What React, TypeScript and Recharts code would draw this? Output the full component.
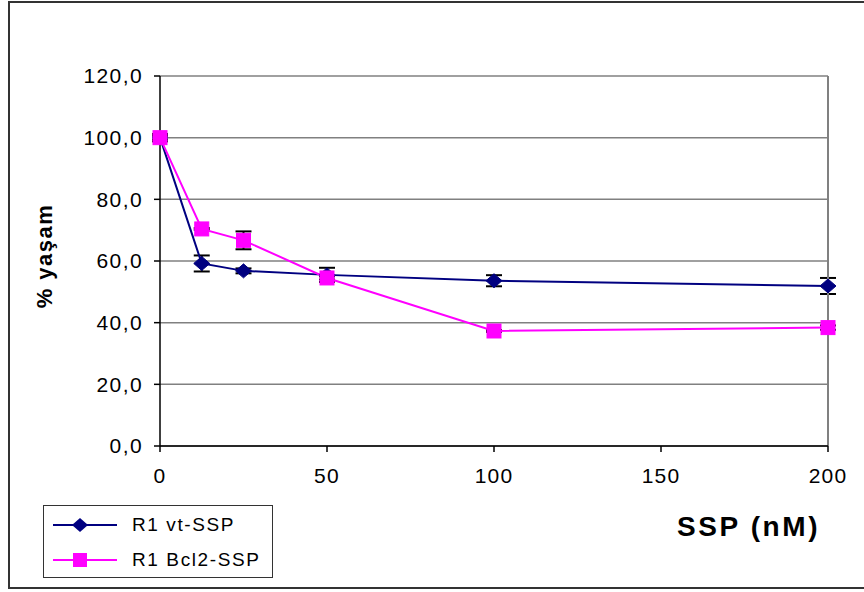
import React from 'react';
import {
  LineChart,
  Line,
  XAxis,
  YAxis,
  CartesianGrid,
  ErrorBar,
  ReferenceLine,
} from 'recharts';

const doses = [0, 12.5, 25, 50, 100, 200];
const vtValues = [100, 59.2, 56.8, 55.5, 53.6, 51.9];
const vtErrors = [1.2, 2.6, 0.8, 2.3, 1.8, 2.6];
const bcl2Values = [100, 70.4, 66.7, 54.5, 37.3, 38.4];
const bcl2Errors = [0.6, 0.3, 2.9, 0.5, 0.3, 0.7];
const xTicks = [0, 50, 100, 150, 200];
const yTicks = [0, 20, 40, 60, 80, 100, 120];
const seriesNames = ['R1 vt-SSP', 'R1 Bcl2-SSP'];

const data = doses.map((d, i) => ({
  dose: d,
  vt: vtValues[i],
  vtErr: vtErrors[i],
  bcl2: bcl2Values[i],
  bcl2Err: bcl2Errors[i],
}));

const FONT = '"Liberation Sans", Arial, sans-serif';
const NAVY = '#000080';
const PINK = '#FF00FF';

const Diamond = ({ cx, cy }: any) => {
  if (cx == null || cy == null) return null;
  return <path d={`M${cx},${cy - 7} L${cx + 8},${cy} L${cx},${cy + 7} L${cx - 8},${cy} Z`} fill={NAVY} stroke={NAVY} />;
};

const Square = ({ cx, cy }: any) => {
  if (cx == null || cy == null) return null;
  return <rect x={cx - 7} y={cy - 7} width={14} height={14} fill={PINK} stroke={PINK} />;
};

const LegendBox = () => (
  <div
    style={{
      position: 'absolute',
      left: 43,
      top: 505,
      width: 230,
      height: 73,
      border: '1.5px solid #333',
      background: '#fff',
      fontFamily: FONT,
      fontSize: 19,
      letterSpacing: 1.6,
      color: '#000',
      boxSizing: 'border-box',
      paddingTop: 1,
    }}
  >
    {seriesNames.map((name, i) => (
      <div key={name} style={{ display: 'flex', alignItems: 'center', height: 35 }}>
        <svg width={80} height={20} style={{ marginLeft: 8 }}>
          <line x1={1} y1={10} x2={65} y2={10} stroke={i === 0 ? NAVY : PINK} strokeWidth={2} />
          {i === 0 ? (
            <path d="M28,3 L36,10 L28,17 L20,10 Z" fill={NAVY} />
          ) : (
            <rect x={21} y={3} width={14} height={14} fill={PINK} />
          )}
        </svg>
        <span>{name}</span>
      </div>
    ))}
  </div>
);

export default function App() {
  return (
    <div style={{ position: 'absolute', left: 0, top: 0, width: 864, height: 592, overflow: 'hidden', background: '#fff' }}>
      <div
        style={{
          position: 'absolute',
          left: 8,
          top: 1,
          width: 880,
          height: 588,
          borderTop: '2px solid #333',
          borderLeft: '2px solid #333',
          borderBottom: '2px solid #333',
          boxSizing: 'border-box',
        }}
      />
      <div style={{ position: 'absolute', left: 0, top: 0 }}>
        <LineChart
          width={864}
          height={592}
          data={data}
          margin={{ top: 76, right: 36, left: 80, bottom: 106 }}
        >
          <CartesianGrid vertical={false} stroke="#808080" strokeWidth={1.5} />
          <ReferenceLine x={200} stroke="#808080" strokeWidth={2} />
          <XAxis
            dataKey="dose"
            type="number"
            domain={[0, 200]}
            ticks={xTicks}
            height={40}
            axisLine={{ stroke: '#000', strokeWidth: 1.5 }}
            tickLine={{ stroke: '#000', strokeWidth: 1.5 }}
            tickSize={6}
            tickMargin={16}
            tick={{ fill: '#000', fontSize: 21, fontFamily: FONT, letterSpacing: 1.2 }}
          />
          <YAxis
            type="number"
            domain={[0, 120]}
            ticks={yTicks}
            width={80}
            axisLine={{ stroke: '#000', strokeWidth: 1.5 }}
            tickLine={{ stroke: '#000', strokeWidth: 1.5 }}
            tickSize={6}
            tickMargin={11}
            tickFormatter={(v: number) => v.toFixed(1).replace('.', ',')}
            tick={{ fill: '#000', fontSize: 21, fontFamily: FONT, letterSpacing: 1.4 }}
          />
          {/* error bars first so the markers sit on top of them */}
          <Line dataKey="vt" stroke="none" dot={false} activeDot={false} legendType="none" isAnimationActive={false}>
            <ErrorBar dataKey="vtErr" direction="y" width={8} stroke="#000" strokeWidth={2} zIndex={50} />
          </Line>
          <Line dataKey="bcl2" stroke="none" dot={false} activeDot={false} legendType="none" isAnimationActive={false}>
            <ErrorBar dataKey="bcl2Err" direction="y" width={8} stroke="#000" strokeWidth={2} zIndex={50} />
          </Line>
          <Line
            type="linear"
            dataKey="vt"
            name={seriesNames[0]}
            stroke={NAVY}
            strokeWidth={2}
            dot={<Diamond />}
            activeDot={false}
            isAnimationActive={false}
          />
          <Line
            type="linear"
            dataKey="bcl2"
            name={seriesNames[1]}
            stroke={PINK}
            strokeWidth={2}
            dot={<Square />}
            activeDot={false}
            isAnimationActive={false}
          />
        </LineChart>
      </div>
      <LegendBox />
      <div
        style={{
          position: 'absolute',
          left: 45,
          top: 256,
          transform: 'translate(-50%, -50%) rotate(-90deg)',
          fontFamily: FONT,
          fontWeight: 'bold',
          fontSize: 22,
          letterSpacing: 1.5,
          whiteSpace: 'nowrap',
          color: '#000',
        }}
      >
        % yaşam
      </div>
      <div
        style={{
          position: 'absolute',
          left: 677,
          top: 511,
          fontFamily: FONT,
          fontWeight: 'bold',
          fontSize: 28,
          letterSpacing: 2.6,
          whiteSpace: 'nowrap',
          color: '#000',
        }}
      >
        SSP (nM)
      </div>
    </div>
  );
}
